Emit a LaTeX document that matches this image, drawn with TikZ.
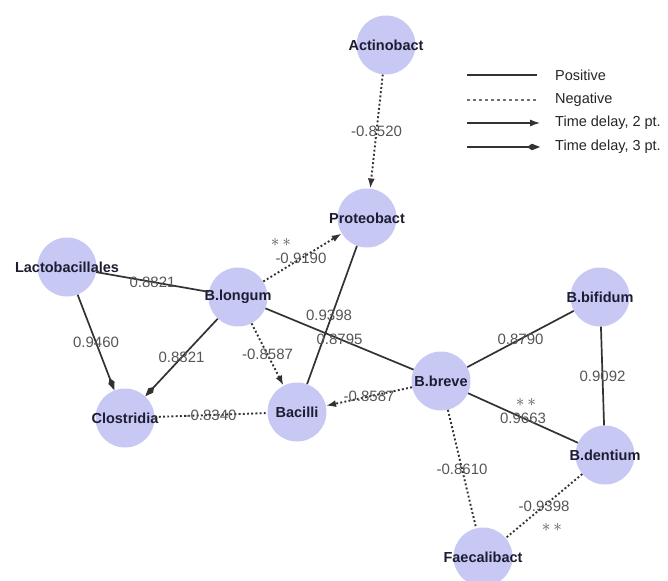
\documentclass[tikz,border=0pt]{standalone}
\usepackage{fontspec}
\setmainfont{Liberation Sans}
\usetikzlibrary{arrows.meta}
\definecolor{nodefill}{RGB}{200,200,245}
\definecolor{nodetext}{RGB}{28,28,50}
\definecolor{edgecol}{RGB}{50,50,50}
\definecolor{labcol}{RGB}{85,85,85}
\newcommand{\tx}[1]{\makebox[0pt]{#1}}
\newcommand{\stars}{$\ast\,\ast$}
\tikzset{
  taxon/.style={circle, fill=nodefill, minimum size=59pt, inner sep=0pt,
    font=\fontsize{14.5}{16}\selectfont\bfseries, text=nodetext},
  posedge/.style={draw=edgecol, line width=1.7pt},
  negedge/.style={draw=edgecol, line width=1.9pt, dash pattern=on 1.9pt off 2.3pt},
  delaytwo/.style={-{Latex[length=10pt,width=7pt]}},
  delaythree/.style={-{Kite[length=13pt,width=6.5pt,inset=5pt]}},
  elab/.style={font=\fontsize{15}{17}\selectfont, text=labcol, inner sep=0pt},
  starlab/.style={font=\fontsize{16}{17}\selectfont, text=labcol, inner sep=0pt},
  legtext/.style={font=\fontsize{14.5}{16}\selectfont, text=black!85, anchor=west, inner sep=0pt},
}
\begin{document}
\begin{tikzpicture}[x=1pt,y=-1pt]
\useasboundingbox (0,0) rectangle (668,580);
% nodes
\node[taxon] (A)  at (386,45)  {\tx{Actinobact}};
\node[taxon] (P)  at (367,218) {\tx{Proteobact}};
\node[taxon] (L)  at (67,267)  {\tx{Lactobacillales}};
\node[taxon] (Lo) at (238,297) {\tx{B.longum}};
\node[taxon] (C)  at (125,418) {\tx{Clostridia}};
\node[taxon] (Ba) at (297,412) {\tx{Bacilli}};
\node[taxon] (Br) at (441,381) {\tx{B.breve}};
\node[taxon] (Bi) at (600,297) {\tx{B.bifidum}};
\node[taxon] (D)  at (605,455) {\tx{B.dentium}};
\node[taxon] (F)  at (483,557) {\tx{Faecalibact}};
% edges
\draw[negedge,delaytwo] (A) -- node[elab,pos=0.5]{-0.8520} (P);
\draw[negedge,delaytwo] (Lo) -- node[elab,pos=0.48]{-0.9190}
   node[starlab,pos=0.48,xshift=-20pt,yshift=16pt]{\stars} (P);
\draw[posedge] (L) -- node[elab,pos=0.5]{0.8821} (Lo);
\draw[posedge,delaythree] (L) -- node[elab,pos=0.5]{0.9460} (C);
\draw[posedge,delaythree] (Lo) -- node[elab,pos=0.5]{0.8821} (C);
\draw[negedge,delaytwo] (Lo) -- node[elab,pos=0.5]{-0.8587} (Ba);
\draw[posedge] (Ba) -- node[elab,pos=0.5,xshift=-3pt]{0.9398} (P);
\draw[posedge] (Lo) -- node[elab,pos=0.5]{0.8795} (Br);
\draw[negedge] (C) -- node[elab,pos=0.5]{-0.8340} (Ba);
\draw[negedge,delaytwo] (Br) -- node[elab,pos=0.5]{-0.8587} (Ba);
\draw[posedge] (Br) -- node[elab,pos=0.5]{0.8790} (Bi);
\draw[posedge] (Br) -- node[elab,pos=0.5]{0.9663}
   node[starlab,pos=0.5,xshift=3pt,yshift=16pt]{\stars} (D);
\draw[posedge] (Bi) -- node[elab,pos=0.5]{0.9092} (D);
\draw[negedge] (Br) -- node[elab,pos=0.5]{-0.8610} (F);
\draw[negedge] (D) -- node[elab,pos=0.5]{-0.9398}
   node[starlab,pos=0.5,xshift=8pt,yshift=-21pt]{\stars} (F);
% legend
\coordinate (l1a) at (467,75);  \coordinate (l1b) at (537,75);
\coordinate (l2a) at (467,100); \coordinate (l2b) at (537,100);
\coordinate (l3a) at (467,123); \coordinate (l3b) at (540,123);
\coordinate (l4a) at (467,147); \coordinate (l4b) at (540,147);
\draw[posedge,line width=1.2pt] (l1a) -- (l1b);
\draw[draw=edgecol!70,line width=1.2pt,dash pattern=on 3pt off 3pt] (l2a) -- (l2b);
\draw[posedge,line width=1.2pt,delaytwo] (l3a) -- (l3b);
\draw[posedge,line width=1.2pt,delaythree] (l4a) -- (l4b);
\node[legtext] (t1) at (555,75)  {Positive};
\node[legtext] (t2) at (555,100) {Negative};
\node[legtext] (t3) at (555,123) {Time delay, 2 pt.};
\node[legtext] (t4) at (555,147) {Time delay, 3 pt.};
\end{tikzpicture}
\end{document}
